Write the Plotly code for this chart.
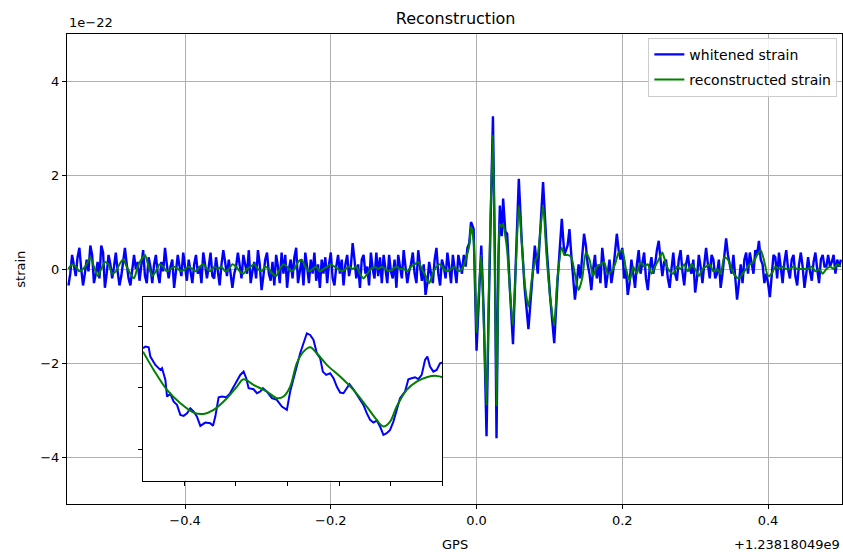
import plotly.graph_objects as go

# ---------------- data (strain in units of 1e-22, time in s relative to 1.23818049e9) ----------------
# whitened strain, before the event (sampled every 2.5 ms from -0.560 s)
pre_whitened_start = -0.560
pre_whitened_step = 0.0025
pre_whitened = [
    -0.35, -0.1, 0.3, 0.05, -0.15, 0.25, 0.45, 0.0, -0.35, -0.1,
    0.2, -0.05, 0.5, 0.3, -0.3, -0.1, 0.15, -0.2, 0.5, 0.35,
    -0.4, -0.1, 0.3, 0.1, -0.2, 0.05, 0.35, -0.05, -0.35, -0.15,
    0.2, 0.45, 0.1, -0.2, -0.35, -0.05, 0.3, 0.0, 0.15, -0.25,
    0.1, 0.4, -0.15, -0.3, 0.25, 0.05, -0.3, 0.1, 0.3, -0.1,
    -0.3, 0.15, -0.05, 0.45, 0.1, -0.2, 0.05, 0.2, -0.4, -0.1,
    0.3, 0.05, -0.15, 0.35, 0.0, -0.25, 0.2, -0.05, -0.3, 0.1,
    0.3, -0.1, 0.05, -0.3, 0.35, 0.1, -0.2, 0.05, 0.35, -0.15,
    -0.2, 0.25, -0.1, -0.35, 0.1, 0.4, 0.15, -0.15, 0.2, -0.05,
    -0.4, -0.1, 0.05, 0.35, 0.1, -0.2, 0.3, 0.05, -0.1, 0.4,
    -0.3, -0.05, 0.15, -0.2, 0.4, 0.1, -0.45, -0.15, 0.2, 0.35,
    -0.1, -0.25, 0.15, -0.35, 0.3, 0.05, -0.3, 0.35, -0.1, 0.3,
    -0.4, 0.0, 0.2, -0.2, 0.25, 0.45, -0.3, -0.05, 0.2, -0.35,
    0.35, 0.05, -0.3, 0.2, -0.1, 0.35, -0.25, 0.1, -0.4, 0.2,
    -0.1, 0.25, -0.3, 0.1, 0.35, -0.2, -0.35, 0.05, 0.3, -0.1,
    0.2, -0.35, 0.1, 0.3, -0.15, 0.05, 0.55, 0.2, -0.2, 0.1,
    -0.4, 0.2, 0.3, -0.1, 0.05, -0.35, 0.35, 0.0, -0.2, 0.35,
    -0.15, 0.25, -0.3, 0.3, 0.05, -0.3, 0.3, -0.05, -0.2, 0.2,
    -0.4, 0.3, 0.05, -0.2, 0.4, 0.1, -0.3, -0.05, 0.1, 0.35,
    -0.1, -0.3, 0.4, 0.05, -0.25, 0.1, -0.55, -0.3, 0.15, -0.1,
    -0.3, 0.2, 0.45, -0.1, -0.35, 0.2, 0.05, -0.2, 0.35, 0.05,
    -0.3, 0.3, 0.0, -0.3, 0.3, 0.1, -0.1, 0.3, 0.05, 0.45,
    0.55,
]
# reconstructed strain, before the event (sampled every 5 ms from -0.560 s)
pre_recon_start = -0.560
pre_recon_step = 0.005
pre_reconstructed = [
    0.0, 0.1, 0.05, -0.05, 0.0, 0.1, 0.25, 0.05, -0.15, 0.0, 0.15, 0.1, -0.1, -0.05, 0.1, 0.2, 0.05,
    -0.1, -0.2, 0.05, 0.2, 0.3, 0.05, -0.15, -0.05, 0.1, 0.05, -0.05, 0.0, 0.05, 0.0, -0.05, 0.0,
    0.05, 0.0, -0.05, 0.05, 0.1, 0.0, -0.05, 0.05, 0.0, 0.05,
    -0.05, 0.0, 0.1, 0.05, -0.05, -0.1, 0.0, 0.05, 0.1, 0.0,
    -0.05, 0.05, 0.0, -0.1, -0.15, 0.0, 0.1, 0.05, -0.05, 0.0,
    0.15, 0.2, 0.05, -0.05, 0.0, 0.05, -0.05, 0.0, 0.05, 0.1,
    0.05, 0.0, -0.05, 0.0, 0.05, 0.0, 0.05, -0.1, -0.2, -0.1,
    0.0, 0.05, 0.0, 0.05, 0.0, -0.05, 0.0, 0.05, 0.0, 0.0,
    -0.05, 0.05, 0.1, 0.15, 0.0, -0.15, -0.3, -0.1, 0.05, 0.1,
    0.0, -0.05, 0.0, 0.05, -0.05, 0.0, 0.2, 0.5,
]

# the event itself (both series share these sample times)
burst_time = [
    -0.0076, -0.004, 0.000, 0.003, 0.0065, 0.010, 0.0137, 0.0165, 0.0188, 0.0225, 0.0250, 0.0274,
    0.0300, 0.0320, 0.0345, 0.0365, 0.0395, 0.0420, 0.0460, 0.0500, 0.0540, 0.0580, 0.0620, 0.0660,
    0.0712, 0.0760, 0.0800, 0.0840, 0.0913, 0.0960, 0.1010, 0.1066, 0.1110, 0.1170, 0.1205,
]
burst_whitened = [
    1.0, 0.85, -1.74, -0.6, 0.5, -1.0, -3.56, -1.0, 0.6, 3.25, 0.5, -3.6,
    0.2, 1.35, 0.7, 1.5, 0.8, 0.75, -0.5, -1.6, 0.2, 1.92, 0.6, -0.4,
    -1.28, -0.2, 0.5, -0.1, 1.85, 0.5, -0.6, -1.58, -0.3, 1.07, 0.3,
]
burst_reconstructed = [
    0.9, 0.6, -1.35, -0.5, 0.3, -1.2, -2.9, -0.8, 0.9, 2.85, 0.3, -2.9,
    -0.1, 0.95, 0.9, 0.95, 0.7, 0.4, -0.5, -1.2, 0.1, 1.35, 0.6, -0.3,
    -0.8, -0.2, 0.15, 0.3, 1.35, 0.3, -0.6, -1.2, -0.2, 0.45, 0.3,
]

# after the event
post_whitened_start = 0.125
post_whitened_step = 0.0025
post_whitened = [
    0.5, 0.85, 0.3, -0.2, -0.65, -0.3, 0.1, -0.2, 0.3, 0.75,
    0.5, 0.1, -0.1, -0.45, 0.0, 0.3, -0.2, 0.1, -0.3, 0.45,
    0.1, -0.4, -0.1, 0.2, -0.3, -0.05, 0.35, 0.75, 0.4, 0.2,
    0.45, -0.2, 0.0, -0.55, -0.3, 0.2, -0.1, -0.4, 0.1, 0.4,
    -0.1, 0.1, 0.35, -0.2, -0.45, 0.0, 0.25, -0.1, 0.1, 0.4,
    0.6, 0.2, -0.15, 0.15, 0.2, -0.2, -0.4, 0.0, 0.35, -0.1,
    -0.25, 0.2, 0.4, -0.05, -0.35, 0.1, 0.3, 0.0, -0.1, 0.2,
    -0.5, -0.2, 0.3, 0.05, -0.3, 0.1, 0.45, 0.1, -0.2, 0.3,
    0.2, -0.2, -0.1, 0.2, -0.4, -0.1, 0.35, 0.65, 0.3, 0.1,
    -0.1, 0.3, -0.2, -0.65, -0.3, 0.1, -0.3, 0.2, 0.35, -0.1,
    0.35, 0.1, -0.1, 0.4, 0.3, 0.6, 0.2, 0.1, -0.3, -0.1,
    -0.3, -0.6, -0.1, 0.3, 0.25, -0.2, 0.35, -0.05, -0.3, 0.15,
    0.4, 0.0, -0.2, 0.2, 0.3, -0.15, -0.35, 0.1, 0.35, 0.05,
    -0.4, -0.1, 0.25, -0.05, -0.25, 0.15, 0.35, 0.0, -0.3, 0.2,
    0.3, 0.05, 0.05, 0.3, 0.05, 0.15, 0.3, -0.1, 0.2, 0.05,
    0.2,
]
post_recon_start = 0.125
post_recon_step = 0.005
post_reconstructed = [
    0.3, 0.25, -0.1, -0.45, -0.2, 0.35, 0.2, -0.15, 0.05, 0.1, 0.15, -0.1, -0.05, 0.1, 0.35, 0.4,
    0.0, -0.25, 0.05, -0.1, 0.15, 0.05, 0.1, -0.1, 0.05, 0.2, 0.35, 0.1, -0.05, -0.1, 0.05, 0.0,
    0.1, -0.05, 0.1, 0.0, -0.15, 0.0, 0.05, 0.1, -0.05, 0.0, -0.1, 0.25, 0.2, 0.0, -0.15, -0.2,
    -0.1, 0.0, 0.1, 0.15, 0.3, 0.4, 0.15, -0.15, -0.1, 0.05, 0.0, 0.05, 0.0, 0.0, 0.05, 0.0,
    0.0, 0.0, 0.0, 0.05, -0.05, 0.0, -0.1, 0.0, 0.05, 0.0, 0.1, 0.05,
]

# inset (zoomed segment)
inset_whitened_t = [
    -0.80, -0.754, -0.690, -0.658, -0.561, -0.464, -0.432, -0.367, -0.335, -0.271, -0.206, -0.142,
    -0.077, -0.013, 0.052, 0.116, 0.181, 0.245, 0.310, 0.406, 0.503, 0.555, 0.600, 0.664, 0.729,
    0.813, 0.877, 0.954, 1.019, 1.083, 1.148, 1.199, 1.245, 1.341, 1.406, 1.470, 1.522, 1.599,
    1.696, 1.792, 1.889, 1.986, 2.050, 2.115, 2.179, 2.244, 2.308, 2.373, 2.437, 2.502, 2.566,
    2.631, 2.682, 2.747, 2.824, 2.889, 2.953, 3.017, 3.082, 3.147, 3.198, 3.275, 3.340, 3.404,
    3.469, 3.533, 3.598, 3.662, 3.727, 3.791, 3.856, 3.920, 3.985, 4.049, 4.113, 4.178, 4.275,
    4.339, 4.404, 4.468, 4.533, 4.597, 4.662, 4.707, 4.758, 4.823, 4.887, 4.952, 5.003,
]
inset_whitened = [
    0.644, 0.672, 0.661, 0.509, 0.374, 0.292, 0.319, 0.130, -0.141, -0.098, -0.223, -0.277,
    -0.440, -0.456, -0.412, -0.331, -0.385, -0.467, -0.618, -0.564, -0.575, -0.618, -0.467, -0.152, -0.141,
    -0.152, -0.098, 0.021, 0.130, 0.211, 0.265, 0.157, -0.006, -0.022, -0.087, -0.060, -0.006, -0.060,
    -0.168, -0.196, -0.304, -0.358, -0.060, 0.157, 0.347, 0.563, 0.726, 0.888, 0.861, 0.780, 0.563,
    0.482, 0.265, 0.211, 0.238, 0.157, 0.021, -0.076, -0.087, -0.006, 0.059, -0.022, -0.114, -0.196,
    -0.277, -0.412, -0.521, -0.564, -0.532, -0.629, -0.765, -0.738, -0.683, -0.548, -0.358, -0.168, -0.060,
    0.141, 0.157, 0.173, 0.141, 0.211, 0.455, 0.509, 0.347, 0.265, 0.292, 0.401, 0.412,
]
inset_recon_t = [
    -0.80, -0.593, -0.335, -0.077, 0.181, 0.374, 0.567, 0.825, 1.019, 1.148, 1.341, 1.599, 1.792,
    1.921, 2.050, 2.179, 2.308, 2.437, 2.566, 2.760, 3.017, 3.275, 3.533, 3.727, 3.856, 3.985,
    4.113, 4.307, 4.500, 4.694, 4.887, 5.003,
]
inset_reconstructed = [
    0.590, 0.292, -0.033, -0.250, -0.402, -0.423, -0.358, -0.168, 0.021, 0.141, 0.048, -0.060, -0.168,
    -0.141, 0.021, 0.401, 0.590, 0.661, 0.563, 0.374, 0.184, -0.033, -0.304, -0.521, -0.629, -0.548,
    -0.304, -0.033, 0.102, 0.173, 0.195, 0.173,
]

x_tick_vals = [-0.4, -0.2, 0.0, 0.2, 0.4]
x_tick_text = ["\u22120.4", "\u22120.2", "0.0", "0.2", "0.4"]
y_tick_vals = [-4, -2, 0, 2, 4]
y_tick_text = ["\u22124", "\u22122", "0", "2", "4"]

# ---------------- assemble series ----------------
def sample_times(start, step, values):
    return [start + step * i for i in range(len(values))]

whitened_time = (sample_times(pre_whitened_start, pre_whitened_step, pre_whitened) + burst_time
                 + sample_times(post_whitened_start, post_whitened_step, post_whitened))
whitened = pre_whitened + burst_whitened + post_whitened
recon_time = (sample_times(pre_recon_start, pre_recon_step, pre_reconstructed) + burst_time
              + sample_times(post_recon_start, post_recon_step, post_reconstructed))
reconstructed = pre_reconstructed + burst_reconstructed + post_reconstructed

BLUE = "#0000ff"
GREEN = "#008000"
FONT = "DejaVu Sans"

fig = go.Figure()
fig.add_trace(go.Scatter(x=whitened_time, y=whitened, mode="lines", name="whitened strain",
                         legendgroup="a", line=dict(color=BLUE, width=2.4), xaxis="x", yaxis="y"))
fig.add_trace(go.Scatter(x=recon_time, y=reconstructed, mode="lines", name="reconstructed strain",
                         legendgroup="b", line=dict(color=GREEN, width=2, shape="spline", smoothing=0.6),
                         xaxis="x", yaxis="y"))
fig.add_trace(go.Scatter(x=inset_whitened_t, y=inset_whitened, mode="lines", showlegend=False,
                         line=dict(color=BLUE, width=2), xaxis="x2", yaxis="y2"))
fig.add_trace(go.Scatter(x=inset_recon_t, y=inset_reconstructed, mode="lines", showlegend=False,
                         line=dict(color=GREEN, width=2, shape="spline", smoothing=1.0),
                         xaxis="x2", yaxis="y2"))

axis_common = dict(showline=True, linecolor="black", linewidth=1, mirror=True,
                   ticks="outside", ticklen=4, tickcolor="black", zeroline=False)

fig.update_layout(
    width=843, height=552,
    margin=dict(l=67, r=1, t=34, b=48),
    paper_bgcolor="white", plot_bgcolor="white",
    font=dict(family=FONT, size=13, color="black"),
    title=dict(text="Reconstruction", x=0.5405, xanchor="center", y=1 - 18 / 552, yanchor="middle",
               font=dict(family=FONT, size=16, color="black")),
    xaxis=dict(domain=[0, 1], range=[-0.562, 0.5015], tickvals=x_tick_vals, ticktext=x_tick_text,
               showgrid=True, gridcolor="#b0b0b0", gridwidth=1, **axis_common),
    yaxis=dict(domain=[0, 1], range=[-5, 5], tickvals=y_tick_vals, ticktext=y_tick_text,
               showgrid=True, gridcolor="#b0b0b0", gridwidth=1, **axis_common),
    xaxis2=dict(domain=[0.0981, 0.4845], anchor="y2", range=[-0.80, 5.0], tickvals=[0, 1, 2, 3, 4, 5],
                showticklabels=False, showgrid=False, **axis_common),
    yaxis2=dict(domain=[0.05, 0.4398], anchor="x2", range=[-1.507, 1.474], tickvals=[-1, 0, 1],
                showticklabels=False, showgrid=False, **axis_common),
    legend=dict(x=0.994, xanchor="right", y=0.992, yanchor="top",
                bgcolor="rgba(255,255,255,0.85)", bordercolor="#cccccc", borderwidth=1,
                font=dict(family=FONT, size=14, color="black"), tracegroupgap=4),
    hovermode=False,
    annotations=[
        dict(text="1e\u221222", xref="paper", yref="paper", x=0, y=1.0, xanchor="left", yanchor="bottom",
             yshift=2, showarrow=False, font=dict(family=FONT, size=13)),
        dict(text="strain", xref="paper", yref="paper", x=-0.061, y=0.5, xanchor="center", yanchor="middle",
             textangle=-90, showarrow=False, font=dict(family=FONT, size=13)),
        dict(text="GPS", xref="paper", yref="paper", x=0.5, y=-0.087, xanchor="center", yanchor="middle",
             showarrow=False, font=dict(family=FONT, size=13)),
        dict(text="+1.23818049e9", xref="paper", yref="paper", x=1.0, y=-0.087, xanchor="right",
             yanchor="middle", showarrow=False, font=dict(family=FONT, size=13)),
    ],
)

fig.write_html("out.html")
